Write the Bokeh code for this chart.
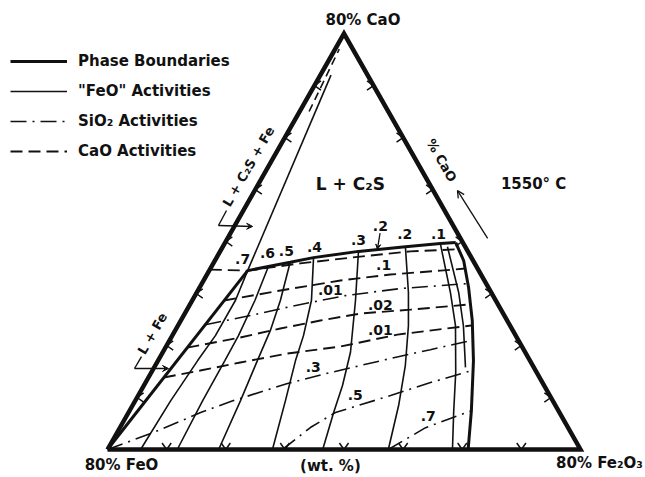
import numpy as np
from bokeh.plotting import figure
from bokeh.models import Range1d, Legend, LegendItem, Arrow, OpenHead, VeeHead
from bokeh.core.properties import value
from bokeh.embed import file_html
from bokeh.resources import INLINE

# ---------------------------------------------------------------------------
# Section at 1550 C, compositions in wt% (CaO, Fe2O3); FeO = 80 - CaO - Fe2O3
# ---------------------------------------------------------------------------
tick_levels = [10, 20, 30, 40, 50, 60, 70]

# phase boundaries
bnd_top_cao = [34.4, 35.2, 36.0, 36.9, 38.1, 39.0, 39.6, 39.8]
bnd_top_fe2o3 = [6.5, 9.6, 12.9, 16.4, 23.4, 30.9, 36.5, 39.0]
bnd_right_cao = [39.8, 36.3, 31.15, 24.8, 17.1, 7.5, 0.0]
bnd_right_fe2o3 = [39.0, 42.1, 45.5, 49.3, 53.35, 57.8, 61.0]
bnd_fe_cao = [34.4, 0.0]
bnd_fe_fe2o3 = [6.5, 0.0]
bnd_c2s_cao = [34.4, 72.0]
bnd_c2s_fe2o3 = [6.5, 1.8]
bnd_c2s_upper_cao = [65.0, 77.0]
bnd_c2s_upper_fe2o3 = [1.6, 0.7]

# "FeO" iso-activity curves
feo_cao = {
    ".7": [34.4, 28.7, 21.9, 17.1, 9.4, 0.0],
    ".6": [35.3, 28.7, 21.9, 17.1, 9.4, 0.0],
    ".5": [36.0, 28.7, 22.9, 17.1, 9.4, 0.0],
    ".4": [36.9, 28.7, 21.9, 17.1, 9.4, 0.0],
    ".3": [38.1, 28.7, 18.7, 12.3, 7.1, 0.0],
    ".2": [38.8, 30.2, 23.8, 16.15, 8.5, 0.0],
    ".1": [39.6, 30.2, 23.8, 14.8, 7.1, 0.0],
    ".05": [39.0, 30.2, 23.8, 15.8],
}
feo_fe2o3 = {
    ".7": [6.5, 7.3, 7.3, 6.7, 6.0, 5.6],
    ".6": [9.6, 10.6, 11.2, 11.3, 11.4, 11.8],
    ".5": [12.9, 14.9, 16.1, 16.8, 17.8, 18.8],
    ".4": [16.4, 20.15, 22.2, 23.25, 25.4, 27.9],
    ".3": [23.4, 27.6, 31.75, 33.6, 34.7, 36.4],
    ".2": [31.0, 35.8, 39.0, 42.3, 45.0, 47.5],
    ".1": [36.5, 42.9, 46.96, 51.5, 55.0, 58.35],
    ".05": [38.0, 44.3, 48.3, 52.65],
}

# CaO iso-activity curves
cao_act_cao = {
    "1": [34.6, 34.4, 35.8, 37.1, 38.1, 38.5],
    ".1": [28.65, 30.58, 32.5, 33.65, 34.4, 34.8],
    ".02": [19.6, 21.54, 23.27, 24.8, 26.15, 26.9, 27.9],
    ".01": [13.85, 15.19, 16.73, 18.46, 19.8, 22.1, 23.85],
}
cao_act_fe2o3 = {
    "1": [0.0, 6.5, 14.7, 24.2, 32.2, 39.8],
    ".1": [5.41, 13.97, 23.16, 31.0, 39.1, 43.1],
    ".02": [3.7, 11.7, 17.6, 23.6, 29.7, 37.8, 47.3],
    ".01": [2.6, 8.1, 14.1, 21.2, 29.5, 38.0, 49.6],
}

# SiO2 iso-activity curves
sio2_cao = {
    ".01": [24.0, 25.77, 27.5, 29.6, 30.96, 31.9],
    ".3": [0.0, 3.27, 7.1, 9.4, 12.7, 14.8, 17.5, 19.2, 21.0],
    ".5": [0.0, 4.23, 7.12, 10.38, 12.88, 15.2],
    ".7": [0.0, 4.2, 5.96, 7.5],
}
sio2_fe2o3 = {
    ".01": [4.55, 11.3, 17.2, 25.45, 34.1, 44.9],
    ".3": [0.0, 6.15, 12.2, 16.6, 24.1, 30.3, 39.1, 45.0, 51.2],
    ".5": [29.6, 32.2, 35.0, 42.7, 48.2, 54.1],
    ".7": [47.5, 51.7, 55.0, 57.9],
}

# activity value labels
top_label_text = [".7", ".6", ".5", ".4", ".3", ".2", ".1"]
top_label_cao = [36.7, 37.7, 38.1, 39.0, 40.2, 41.35, 41.35]
top_label_fe2o3 = [4.5, 8.2, 11.2, 15.5, 22.35, 29.6, 35.3]
inner_label_text = [".1", ".01", ".02", ".01", ".3", ".5", ".7"]
inner_label_cao = [35.4, 30.6, 27.7, 22.9, 15.8, 10.4, 6.5]
inner_label_fe2o3 = [29.0, 22.4, 32.3, 34.7, 26.9, 36.7, 51.0]

# ---------------------------------------------------------------------------
W, H = 645, 477
X_RANGE = (-18.1, 91.0)
Y_RANGE = (-5.385, 86.35)
SX = W / (X_RANGE[1] - X_RANGE[0])
SY = H / (Y_RANGE[1] - Y_RANGE[0])
FONT = "DejaVu Sans"
INK = "#111111"


def proj(cao, fe2o3):
    """Ternary (CaO, Fe2O3) -> plane coordinates (X, Y)."""
    c = np.asarray(cao, dtype=float)
    f = np.asarray(fe2o3, dtype=float)
    return (f + 0.5 * c).tolist(), c.tolist()


p = figure(width=W, height=H, x_range=Range1d(*X_RANGE), y_range=Range1d(*Y_RANGE),
           output_backend="svg", toolbar_location=None, min_border=0,
           x_axis_location=None, y_axis_location=None, outline_line_color=None,
           background_fill_color="white", border_fill_color="white")
p.grid.visible = False

# triangle
tx, ty = proj([0, 80, 0, 0], [0, 0, 80, 0])
p.line(tx, ty, line_color=INK, line_width=4.5, line_join="miter")

# edge ticks (small arrowheads pointing out of the triangle)
ARM = 8.0
ang = np.radians(35)
ax_, ay_ = ARM * np.cos(ang), ARM * np.sin(ang)
tk_xs, tk_ys = [], []
for lvl in tick_levels:
    (lx,), (ly,) = proj([lvl], [0])
    (rx,), (ry,) = proj([lvl], [80 - lvl])
    (bx,), (by,) = proj([0], [lvl])
    tk_xs.append([lx + ax_ / SX, lx, lx + ax_ / SX]); tk_ys.append([ly + ay_ / SY, ly, ly - ay_ / SY])
    tk_xs.append([rx - ax_ / SX, rx, rx - ax_ / SX]); tk_ys.append([ry + ay_ / SY, ry, ry - ay_ / SY])
    tk_xs.append([bx - ay_ / SX, bx, bx + ay_ / SX]); tk_ys.append([by + ax_ / SY, by, by + ax_ / SY])
p.multi_line(tk_xs, tk_ys, line_color=INK, line_width=1.5)

# phase boundaries
r_bnd = None
for cl, fl, lw in [(bnd_top_cao, bnd_top_fe2o3, 3), (bnd_right_cao, bnd_right_fe2o3, 3),
                   (bnd_fe_cao, bnd_fe_fe2o3, 3), (bnd_c2s_cao, bnd_c2s_fe2o3, 1.6)]:
    x, y = proj(cl, fl)
    r = p.line(x, y, line_color=INK, line_width=lw)
    if r_bnd is None:
        r_bnd = r
x, y = proj(bnd_c2s_upper_cao, bnd_c2s_upper_fe2o3)
p.line(x, y, line_color=INK, line_width=1.6, line_dash="8 5")

# FeO activities
r_feo = None
for k in feo_cao:
    x, y = proj(feo_cao[k], feo_fe2o3[k])
    r = p.line(x, y, line_color=INK, line_width=1.6)
    r_feo = r_feo or r

# CaO activities
r_cao = None
for k in cao_act_cao:
    x, y = proj(cao_act_cao[k], cao_act_fe2o3[k])
    r = p.line(x, y, line_color=INK, line_width=1.9, line_dash="12 6")
    r_cao = r_cao or r

# SiO2 activities
r_sio2 = None
for k in sio2_cao:
    x, y = proj(sio2_cao[k], sio2_fe2o3[k])
    r = p.line(x, y, line_color=INK, line_width=1.6, line_dash="16 6 2 6")
    r_sio2 = r_sio2 or r

# activity value labels
lab_kw = dict(text_font=value(FONT), text_font_style="bold", text_font_size="14px",
              text_color=INK, text_align="center", text_baseline="middle")
x, y = proj(top_label_cao, top_label_fe2o3)
p.text(x, y, text=top_label_text, **lab_kw)
x, y = proj(inner_label_cao, inner_label_fe2o3)
p.text(x, y, text=inner_label_text, **lab_kw)
x, y = proj([42.9], [24.7])
p.text(x, y, text=[".2"], **lab_kw)
(xs_,), (ys_,) = proj([41.6], [25.3])
(xe_,), (ye_,) = proj([38.5], [26.4])
p.add_layout(Arrow(x_start=xs_, y_start=ys_, x_end=xe_, y_end=ye_, line_width=1.3,
                   line_color=INK, end=VeeHead(size=5, line_color=INK, fill_color=INK)))

# region names
x, y = proj([51.15], [15.5])
p.text(x, y, text=["L + C\u2082S"], text_font=value(FONT), text_font_size="17px",
       text_font_style="bold", text_color=INK, text_align="center", text_baseline="middle")
side_kw = dict(lab_kw, text_font_size="13px")
x, y = proj([54.4, 22.3], [-3.35, -3.54])
p.text(x, y, text=["L + C\u2082S + Fe", "L + Fe"], angle=np.radians(60), **side_kw)

# region pointers
for (c0, f0), (c1, f1), (c2, f2) in [((45.96, -2.85), (43.08, -2.77), (42.9, 3.1)),
                                     ((17.88, -3.19), (15.58, -3.22), (15.58, 2.53))]:
    x, y = proj([c0, c1], [f0, f1])
    p.line(x, y, line_color=INK, line_width=1.4)
    (xa,), (ya,) = proj([c1], [f1])
    (xb,), (yb,) = proj([c2], [f2])
    p.add_layout(Arrow(x_start=xa, y_start=ya, x_end=xb, y_end=yb, line_width=1.4,
                       line_color=INK, end=VeeHead(size=6, line_color=INK, fill_color=INK)))

# CaO direction along the right side
x, y = proj([55.6], [28.7])
p.text(x, y, text=["% CaO"], angle=np.radians(-60), **side_kw)
(xa,), (ya,) = proj([40.6], [44.0])
(xb,), (yb,) = proj([49.8], [34.3])
p.add_layout(Arrow(x_start=xa, y_start=ya, x_end=xb, y_end=yb, line_width=1.3,
                   line_color=INK, end=OpenHead(size=7, line_width=1.3, line_color=INK)))

corner_kw = dict(text_font=value(FONT), text_font_style="bold", text_font_size="15px",
                 text_color=INK, text_align="center", text_baseline="middle")
x, y = proj([51.15], [46.5])
p.text(x, y, text=["1550\u00b0 C"], **corner_kw)

# corner and axis captions
vx, vy = proj([80, 0, 0, 0], [0, 0, 80, 37.7])
p.text([vx[0]], [vy[0]], text=["80% CaO"], x_offset=19, y_offset=-14, **corner_kw)
p.text([vx[1]], [vy[1]], text=["80% FeO"], x_offset=14, y_offset=16, **corner_kw)
p.text([vx[2]], [vy[2]], text=["80% Fe\u2082O\u2083"], x_offset=19, y_offset=14, **corner_kw)
p.text([vx[3]], [vy[3]], text=["(wt. %)"], y_offset=17, **corner_kw)

# legend: location is the lower-left corner of the box, measured from the frame's bottom-left
legend = Legend(items=[LegendItem(label="Phase Boundaries", renderers=[r_bnd]),
                       LegendItem(label='"FeO" Activities', renderers=[r_feo]),
                       LegendItem(label="SiO\u2082 Activities", renderers=[r_sio2]),
                       LegendItem(label="CaO Activities", renderers=[r_cao])],
                location=(10, 316), glyph_width=57, glyph_height=20, label_height=20,
                spacing=10, padding=0, margin=0, label_standoff=11,
                label_text_font=FONT, label_text_font_style="bold",
                label_text_font_size="15px", label_text_color=INK,
                background_fill_alpha=0, border_line_alpha=0)
p.add_layout(legend)

open("out.html", "w").write(file_html(p, INLINE))
